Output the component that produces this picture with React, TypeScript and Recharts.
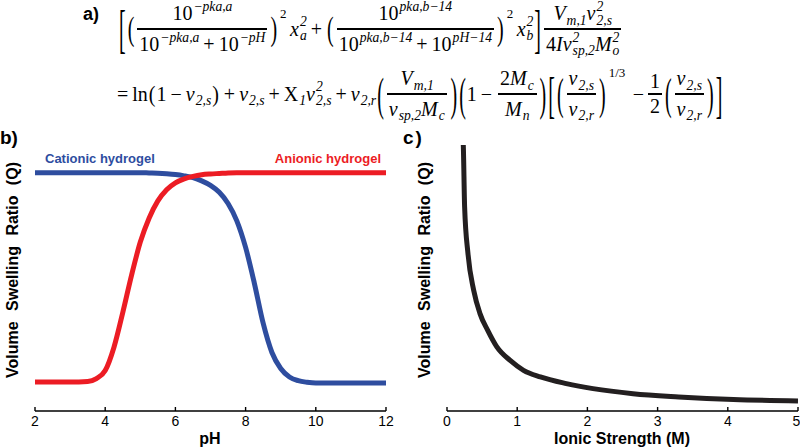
import React from "react";
import { LineChart, Line, XAxis, YAxis } from "recharts";

// b) pH response
const phValues = [2, 3, 3.5, 3.75, 4, 4.25, 4.5, 4.75, 5, 5.25, 5.5, 5.75, 6, 6.25, 6.5, 6.75, 7, 7.25, 7.5, 7.75, 8, 8.25, 8.5, 8.75, 9, 9.25, 9.5, 9.75, 10, 11, 12];
const anionicQ = [0.109, 0.109, 0.111, 0.122, 0.152, 0.24, 0.37, 0.51, 0.635, 0.725, 0.79, 0.832, 0.858, 0.873, 0.882, 0.888, 0.891, 0.893, 0.895, 0.896, 0.896, 0.896, 0.896, 0.896, 0.896, 0.896, 0.896, 0.896, 0.896, 0.896, 0.896];
const cationicQ = [0.896, 0.896, 0.896, 0.896, 0.896, 0.896, 0.896, 0.896, 0.896, 0.895, 0.894, 0.892, 0.889, 0.884, 0.877, 0.865, 0.848, 0.822, 0.78, 0.715, 0.615, 0.48, 0.33, 0.22, 0.16, 0.128, 0.114, 0.108, 0.105, 0.105, 0.105];
const phTicks = [2, 4, 6, 8, 10, 12];

// c) ionic strength response
const ionicStrength = [0.226, 0.232, 0.251, 0.299, 0.38, 0.47, 0.58, 0.71, 0.9, 1.09, 1.33, 1.7, 2.08, 2.65, 3.3, 4.08, 5];
const ionicQ = [1.03, 1.0, 0.767, 0.591, 0.454, 0.366, 0.303, 0.241, 0.19, 0.153, 0.128, 0.103, 0.084, 0.065, 0.053, 0.043, 0.038];
const ionicTicks = [0, 1, 2, 3, 4, 5];

const phData = phValues.map((pH, i) => ({ pH, anionic: anionicQ[i], cationic: cationicQ[i] }));
const ionicData = ionicStrength.map((I, i) => ({ I, Q: ionicQ[i] }));

const SANS = '"Liberation Sans", Arial, sans-serif';
const MATH = '"Liberation Serif", "DejaVu Serif", serif';
const RED = "#ec1c24";
const BLUE = "#2e4d9f";

// --- tiny math layout helpers ---
function Sym({ b, sub, sup, it = true }: { b: string; sub?: string; sup?: string; it?: boolean }) {
  return (
    <span style={{ display: "inline-flex", alignItems: "center" }}>
      <span style={{ fontStyle: it ? "italic" : "normal" }}>{b}</span>
      {(sub || sup) && (
        <span
          style={{
            display: "inline-flex",
            flexDirection: "column",
            fontSize: "0.68em",
            lineHeight: 1.0,
            marginLeft: 1,
            fontStyle: "italic",
          }}
        >
          <span style={{ visibility: sup ? "visible" : "hidden" }}>{sup || "0"}</span>
          <span style={{ visibility: sub ? "visible" : "hidden" }}>{sub || "0"}</span>
        </span>
      )}
    </span>
  );
}

function Frac({ n, d }: { n: React.ReactNode; d: React.ReactNode }) {
  return (
    <span style={{ display: "inline-flex", flexDirection: "column", alignItems: "center", margin: "0 2px" }}>
      <span style={{ display: "inline-flex", alignItems: "center", padding: "0 2px", lineHeight: 1.05 }}>{n}</span>
      <span style={{ alignSelf: "stretch", height: 1.4, background: "#000", margin: "1px 0" }} />
      <span style={{ display: "inline-flex", alignItems: "center", padding: "0 2px", lineHeight: 1.05 }}>{d}</span>
    </span>
  );
}

function Delim({ ch, h, sup }: { ch: string; h: number; sup?: string }) {
  return (
    <span style={{ display: "inline-flex", alignItems: "center", position: "relative" }}>
      <span
        style={{
          display: "inline-block",
          fontSize: 20,
          lineHeight: "20px",
          transform: `scaleY(${h / 22})`,
          margin: "0 1px",
          fontWeight: 300,
        }}
      >
        {ch}
      </span>
      {sup && (
        <span style={{ position: "absolute", left: "100%", top: -h / 2 + 5, fontSize: 13, marginLeft: 2 }}>
          {sup}
        </span>
      )}
    </span>
  );
}

const Op = ({ c }: { c: string }) => <span style={{ margin: "0 4px" }}>{c}</span>;

function Equation() {
  const line: React.CSSProperties = {
    position: "absolute",
    display: "flex",
    alignItems: "center",
    whiteSpace: "nowrap",
    fontFamily: MATH,
    fontSize: 20,
    color: "#000",
  };
  return (
    <>
      <div style={{ position: "absolute", left: 83, top: 4, fontFamily: SANS, fontWeight: "bold", fontSize: 18 }}>a)</div>
      <div style={{ ...line, left: 118, top: 0, height: 58 }}>
        <Delim ch="[" h={58} />
        <Delim ch="(" h={36} />
        <Frac
          n={<Sym b="10" sup="−pka,a" it={false} />}
          d={
            <>
              <Sym b="10" sup="−pka,a" it={false} />
              <Op c="+" />
              <Sym b="10" sup="−pH" it={false} />
            </>
          }
        />
        <Delim ch=")" h={36} sup="2" />
        <span style={{ marginLeft: 12 }}>
          <Sym b="x" sub="a" sup="2" />
        </span>
        <Op c="+" />
        <Delim ch="(" h={36} />
        <Frac
          n={<Sym b="10" sup="pka,b−14" it={false} />}
          d={
            <>
              <Sym b="10" sup="pka,b−14" it={false} />
              <Op c="+" />
              <Sym b="10" sup="pH−14" it={false} />
            </>
          }
        />
        <Delim ch=")" h={36} sup="2" />
        <span style={{ marginLeft: 12 }}>
          <Sym b="x" sub="b" sup="2" />
        </span>
        <Delim ch="]" h={58} />
        <Frac
          n={
            <>
              <Sym b="V" sub="m,1" />
              <Sym b="v" sub="2,s" sup="2" />
            </>
          }
          d={
            <>
              <span>4</span>
              <Sym b="I" />
              <Sym b="v" sub="sp,2" sup="2" />
              <Sym b="M" sub="o" sup="2" />
            </>
          }
        />
      </div>
      <div style={{ ...line, left: 117, top: 64, height: 60 }}>
        <span style={{ marginRight: 4 }}>=</span>
        <span>ln</span>
        <Delim ch="(" h={26} />
        <span>1</span>
        <Op c="−" />
        <Sym b="v" sub="2,s" />
        <Delim ch=")" h={26} />
        <Op c="+" />
        <Sym b="v" sub="2,s" />
        <Op c="+" />
        <Sym b="X" sub="1" it={false} />
        <Sym b="v" sub="2,s" sup="2" />
        <Op c="+" />
        <Sym b="v" sub="2,r" />
        <Delim ch="(" h={50} />
        <Frac
          n={<Sym b="V" sub="m,1" />}
          d={
            <>
              <Sym b="v" sub="sp,2" />
              <Sym b="M" sub="c" />
            </>
          }
        />
        <Delim ch=")" h={50} />
        <Delim ch="(" h={50} />
        <span>1</span>
        <Op c="−" />
        <Frac
          n={
            <>
              <span>2</span>
              <Sym b="M" sub="c" />
            </>
          }
          d={<Sym b="M" sub="n" />}
        />
        <Delim ch=")" h={50} />
        <Delim ch="[" h={56} />
        <Delim ch="(" h={48} />
        <Frac n={<Sym b="v" sub="2,s" />} d={<Sym b="v" sub="2,r" />} />
        <Delim ch=")" h={48} sup="1/3" />
        <span style={{ marginLeft: 26, marginRight: 2 }}>−</span>
        <Frac n={<span>1</span>} d={<span>2</span>} />
        <Delim ch="(" h={48} />
        <Frac n={<Sym b="v" sub="2,s" />} d={<Sym b="v" sub="2,r" />} />
        <Delim ch=")" h={48} />
        <Delim ch="]" h={56} />
      </div>
    </>
  );
}

const tickStyle = { fontFamily: SANS, fontSize: 14, fill: "#000" };
const axisStroke = { stroke: "#000", strokeWidth: 1.4 };

function YLabel({ cx }: { cx: number }) {
  return (
    <div
      style={{
        position: "absolute",
        left: cx - 150,
        top: 270 - 10,
        width: 300,
        height: 20,
        lineHeight: "20px",
        textAlign: "center",
        transform: "rotate(-90deg)",
        fontFamily: SANS,
        fontWeight: "bold",
        fontSize: 16,
        wordSpacing: 6,
        whiteSpace: "nowrap",
      }}
    >
      Volume Swelling Ratio (Q)
    </div>
  );
}

export default function App() {
  return (
    <div style={{ position: "absolute", left: 0, top: 0, width: 800, height: 448, background: "#fff", overflow: "hidden" }}>
      <Equation />

      <div style={{ position: "absolute", left: 0, top: 127, fontFamily: SANS, fontWeight: "bold", fontSize: 19 }}>b)</div>
      <div style={{ position: "absolute", left: 403, top: 127, fontFamily: SANS, fontWeight: "bold", fontSize: 19, letterSpacing: 2 }}>c)</div>

      <div style={{ position: "absolute", left: 0, top: 140 }}>
        <LineChart width={400} height={308} data={phData} margin={{ top: 5, right: 14, bottom: 7, left: 35 }}>
          <XAxis
            dataKey="pH"
            type="number"
            domain={[2, 12]}
            ticks={phTicks}
            tick={tickStyle}
            tickSize={-4}
            tickMargin={9}
            tickLine={axisStroke}
            axisLine={axisStroke}
            height={30}
          />
          <XAxis xAxisId="top" orientation="top" dataKey="pH" type="number" domain={[2, 12]} tick={false} tickLine={false} axisLine={axisStroke} height={0} />
          <YAxis domain={[0, 1]} tick={false} tickLine={false} axisLine={axisStroke} width={0} />
          <YAxis yAxisId="right" orientation="right" domain={[0, 1]} tick={false} tickLine={false} axisLine={axisStroke} width={0} />
          <Line type="monotone" dataKey="cationic" stroke={BLUE} strokeWidth={5} dot={false} isAnimationActive={false} />
          <Line type="monotone" dataKey="anionic" stroke={RED} strokeWidth={5} dot={false} isAnimationActive={false} />
        </LineChart>
      </div>
      <div style={{ position: "absolute", left: 45, top: 151, fontFamily: SANS, fontWeight: "bold", fontSize: 13, color: BLUE }}>
        Cationic hydrogel
      </div>
      <div style={{ position: "absolute", right: 800 - 381, top: 151, fontFamily: SANS, fontWeight: "bold", fontSize: 13, color: RED }}>
        Anionic hydrogel
      </div>
      <YLabel cx={13} />
      <div style={{ position: "absolute", left: 110, width: 200, top: 430, textAlign: "center", fontFamily: SANS, fontWeight: "bold", fontSize: 16 }}>
        pH
      </div>

      <div style={{ position: "absolute", left: 400, top: 140 }}>
        <LineChart width={400} height={308} data={ionicData} margin={{ top: 5, right: 2, bottom: 7, left: 47 }}>
          <XAxis
            dataKey="I"
            type="number"
            domain={[0, 5]}
            ticks={ionicTicks}
            tick={tickStyle}
            tickSize={-4}
            tickMargin={9}
            tickLine={axisStroke}
            axisLine={axisStroke}
            height={30}
          />
          <XAxis xAxisId="top" orientation="top" dataKey="I" type="number" domain={[0, 5]} tick={false} tickLine={false} axisLine={axisStroke} height={0} />
          <YAxis domain={[0, 1]} allowDataOverflow tick={false} tickLine={false} axisLine={axisStroke} width={0} />
          <YAxis yAxisId="right" orientation="right" domain={[0, 1]} tick={false} tickLine={false} axisLine={axisStroke} width={0} />
          <Line type="monotone" dataKey="Q" stroke="#231f20" strokeWidth={5} dot={false} isAnimationActive={false} />
        </LineChart>
      </div>
      <YLabel cx={425} />
      <div style={{ position: "absolute", left: 522, width: 200, top: 430, textAlign: "center", fontFamily: SANS, fontWeight: "bold", fontSize: 16 }}>
        Ionic Strength (M)
      </div>
    </div>
  );
}
